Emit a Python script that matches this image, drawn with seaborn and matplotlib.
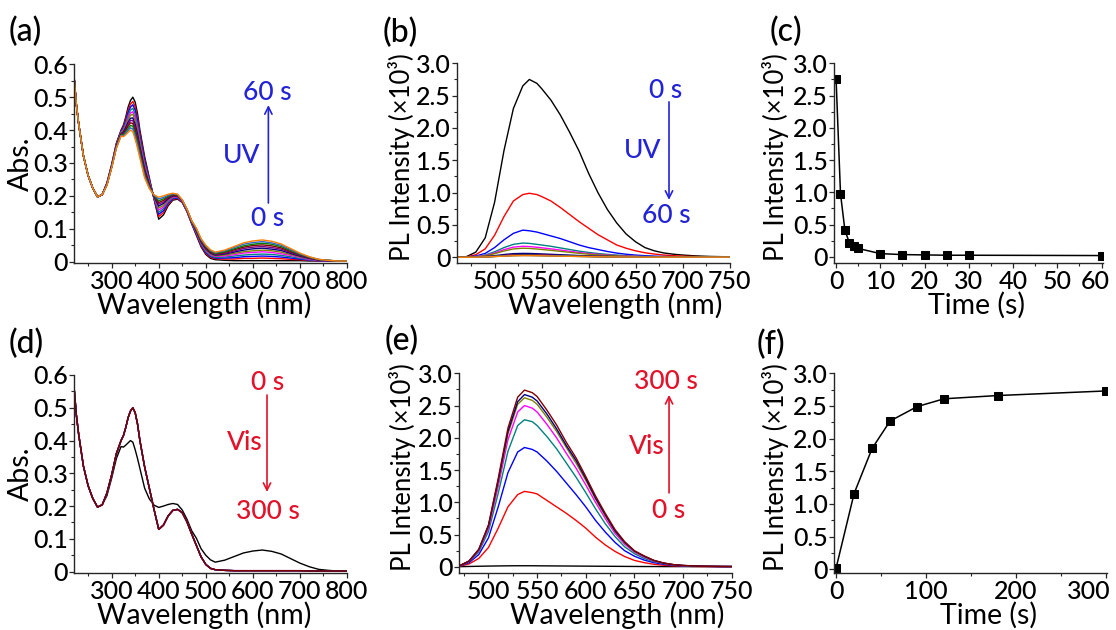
import matplotlib
matplotlib.use("Agg")
import matplotlib.pyplot as plt
from matplotlib.ticker import MultipleLocator, FuncFormatter, FixedLocator
from matplotlib.transforms import ScaledTranslation
import pandas as pd
import seaborn as sns

# ---------------------------------------------------------------- data
# UV-vis absorption grid (nm)
wavelength_abs = [220, 225, 230, 240, 250, 260, 270, 280, 290, 300, 310, 320, 325, 330, 335,
                  340, 345, 350, 355, 360, 370, 380, 390, 400, 410, 420, 430, 440, 450, 460,
                  470, 480, 490, 500, 510, 520, 540, 560, 580, 600, 620, 640, 660, 680, 700,
                  720, 740, 760, 780, 800]

abs_common = [0.565, 0.478, 0.418, 0.322, 0.262, 0.223, 0.197, 0.204]

abs_uv_0s = abs_common + [0.240, 0.295, 0.360, 0.400, 0.415, 0.440, 0.470, 0.490, 0.500, 0.485, 0.450, 0.400, 0.320, 0.255, 0.190, 0.129, 0.142, 0.170, 0.187, 0.190, 0.180, 0.152, 0.115, 0.080, 0.045, 0.022, 0.010, 0.006, 0.004, 0.003, 0.003, 0.003, 0.003, 0.003, 0.003, 0.003, 0.003, 0.002, 0.002, 0.002, 0.002, 0.002]
abs_uv_1s = abs_common + [0.239, 0.294, 0.358, 0.398, 0.411, 0.434, 0.461, 0.479, 0.487, 0.471, 0.437, 0.390, 0.312, 0.251, 0.192, 0.137, 0.149, 0.174, 0.190, 0.192, 0.181, 0.153, 0.116, 0.083, 0.048, 0.025, 0.013, 0.009, 0.008, 0.008, 0.010, 0.010, 0.011, 0.010, 0.009, 0.007, 0.006, 0.004, 0.003, 0.002, 0.002, 0.002]
abs_uv_2s = abs_common + [0.238, 0.293, 0.357, 0.396, 0.407, 0.428, 0.453, 0.470, 0.477, 0.460, 0.427, 0.381, 0.306, 0.248, 0.193, 0.144, 0.155, 0.178, 0.192, 0.193, 0.182, 0.154, 0.117, 0.085, 0.051, 0.028, 0.016, 0.011, 0.011, 0.012, 0.015, 0.016, 0.017, 0.016, 0.014, 0.011, 0.008, 0.005, 0.003, 0.002, 0.002, 0.002]
abs_uv_3s = abs_common + [0.237, 0.292, 0.355, 0.394, 0.404, 0.423, 0.445, 0.461, 0.466, 0.449, 0.416, 0.373, 0.299, 0.244, 0.194, 0.150, 0.161, 0.181, 0.194, 0.195, 0.183, 0.155, 0.118, 0.087, 0.053, 0.031, 0.018, 0.013, 0.014, 0.017, 0.020, 0.022, 0.023, 0.022, 0.019, 0.015, 0.010, 0.006, 0.004, 0.003, 0.002, 0.002]
abs_uv_4s = abs_common + [0.237, 0.291, 0.354, 0.392, 0.400, 0.417, 0.438, 0.452, 0.456, 0.438, 0.406, 0.364, 0.293, 0.241, 0.195, 0.157, 0.166, 0.185, 0.196, 0.196, 0.183, 0.155, 0.119, 0.089, 0.056, 0.034, 0.021, 0.016, 0.017, 0.021, 0.026, 0.028, 0.030, 0.028, 0.024, 0.019, 0.013, 0.007, 0.004, 0.003, 0.002, 0.002]
abs_uv_5s = abs_common + [0.236, 0.290, 0.353, 0.391, 0.398, 0.413, 0.432, 0.445, 0.448, 0.429, 0.398, 0.358, 0.288, 0.239, 0.197, 0.163, 0.171, 0.188, 0.198, 0.198, 0.184, 0.156, 0.120, 0.091, 0.058, 0.036, 0.023, 0.018, 0.020, 0.025, 0.030, 0.033, 0.035, 0.033, 0.029, 0.022, 0.015, 0.009, 0.005, 0.003, 0.002, 0.002]
abs_uv_10s = abs_common + [0.235, 0.289, 0.351, 0.389, 0.394, 0.408, 0.424, 0.436, 0.437, 0.417, 0.387, 0.349, 0.281, 0.235, 0.198, 0.169, 0.177, 0.191, 0.200, 0.199, 0.185, 0.157, 0.121, 0.093, 0.060, 0.039, 0.026, 0.020, 0.023, 0.029, 0.035, 0.039, 0.041, 0.038, 0.034, 0.025, 0.017, 0.010, 0.005, 0.003, 0.002, 0.002]
abs_uv_15s = abs_common + [0.235, 0.288, 0.350, 0.388, 0.391, 0.403, 0.418, 0.429, 0.429, 0.408, 0.379, 0.342, 0.276, 0.233, 0.199, 0.175, 0.181, 0.194, 0.201, 0.200, 0.185, 0.157, 0.122, 0.095, 0.062, 0.041, 0.028, 0.022, 0.025, 0.032, 0.040, 0.044, 0.046, 0.043, 0.038, 0.028, 0.019, 0.011, 0.005, 0.003, 0.002, 0.002]
abs_uv_20s = abs_common + [0.234, 0.287, 0.349, 0.386, 0.388, 0.399, 0.412, 0.422, 0.420, 0.399, 0.370, 0.335, 0.271, 0.230, 0.200, 0.180, 0.186, 0.197, 0.203, 0.201, 0.186, 0.158, 0.123, 0.097, 0.064, 0.043, 0.030, 0.024, 0.028, 0.036, 0.044, 0.049, 0.051, 0.048, 0.042, 0.031, 0.021, 0.012, 0.006, 0.004, 0.002, 0.002]
abs_uv_25s = abs_common + [0.233, 0.287, 0.347, 0.385, 0.386, 0.395, 0.405, 0.414, 0.412, 0.390, 0.362, 0.329, 0.265, 0.227, 0.201, 0.185, 0.191, 0.199, 0.205, 0.203, 0.187, 0.159, 0.123, 0.098, 0.066, 0.046, 0.032, 0.025, 0.030, 0.039, 0.048, 0.053, 0.056, 0.053, 0.046, 0.034, 0.022, 0.013, 0.006, 0.004, 0.002, 0.002]
abs_uv_30s = abs_common + [0.233, 0.286, 0.346, 0.383, 0.383, 0.390, 0.399, 0.407, 0.403, 0.381, 0.353, 0.322, 0.260, 0.225, 0.202, 0.191, 0.195, 0.202, 0.206, 0.204, 0.187, 0.159, 0.124, 0.100, 0.068, 0.048, 0.034, 0.027, 0.033, 0.043, 0.053, 0.058, 0.061, 0.057, 0.050, 0.037, 0.024, 0.014, 0.007, 0.004, 0.002, 0.002]
abs_uv_60s = abs_common + [0.232, 0.285, 0.345, 0.382, 0.380, 0.386, 0.393, 0.400, 0.395, 0.372, 0.345, 0.315, 0.255, 0.222, 0.203, 0.196, 0.200, 0.205, 0.208, 0.205, 0.188, 0.160, 0.125, 0.102, 0.070, 0.050, 0.036, 0.029, 0.035, 0.046, 0.057, 0.063, 0.066, 0.062, 0.054, 0.040, 0.026, 0.015, 0.007, 0.004, 0.002, 0.002]

uv_times = ["0 s", "1 s", "2 s", "3 s", "4 s", "5 s", "10 s", "15 s", "20 s", "25 s", "30 s", "60 s"]
abs_uv = [abs_uv_0s, abs_uv_1s, abs_uv_2s, abs_uv_3s, abs_uv_4s, abs_uv_5s, abs_uv_10s,
          abs_uv_15s, abs_uv_20s, abs_uv_25s, abs_uv_30s, abs_uv_60s]

# visible-light recovery: the coloured state first, then the reopened form
vis_times = ["0 s", "20 s", "40 s", "60 s", "90 s", "120 s", "180 s", "300 s"]
abs_vis = [abs_uv_60s] + [abs_uv_0s] * 7

# photoluminescence grid (nm)
wavelength_pl = [460, 470, 480, 490, 500, 510, 520, 530, 537, 545, 550, 560, 570, 580, 590, 600,
                 610, 620, 630, 640, 650, 660, 670, 680, 690, 700, 710, 720, 730, 740, 750]

pl_uv_0s = [0, 0.01, 0.08, 0.30, 0.85, 1.65, 2.30, 2.65, 2.75, 2.69, 2.61, 2.43, 2.20, 1.93, 1.64, 1.30, 1.00, 0.74, 0.53, 0.36, 0.24, 0.15, 0.10, 0.067, 0.048, 0.035, 0.025, 0.018, 0.013, 0.010, 0.008]
pl_uv_1s = [0, 0.005, 0.04, 0.13, 0.34, 0.63, 0.87, 0.97, 0.99, 0.97, 0.94, 0.87, 0.77, 0.66, 0.55, 0.45, 0.35, 0.27, 0.19, 0.14, 0.10, 0.07, 0.05, 0.035, 0.025, 0.018, 0.013, 0.010, 0.008, 0.006, 0.005]
pl_uv_2s = [0, 0.003, 0.02, 0.06, 0.15, 0.27, 0.37, 0.42, 0.41, 0.39, 0.37, 0.33, 0.29, 0.24, 0.19, 0.15, 0.12, 0.09, 0.065, 0.047, 0.034, 0.025, 0.018, 0.013, 0.010, 0.008, 0.006, 0.005, 0.004, 0.004, 0.003]
pl_uv_3s = [0, 0.002, 0.012, 0.035, 0.085, 0.15, 0.20, 0.22, 0.215, 0.20, 0.19, 0.17, 0.145, 0.12, 0.095, 0.075, 0.058, 0.045, 0.034, 0.025, 0.018, 0.013, 0.010, 0.008, 0.006, 0.005, 0.004, 0.004, 0.003, 0.003, 0.003]
pl_uv_4s = [0, 0.002, 0.01, 0.028, 0.066, 0.118, 0.157, 0.17, 0.166, 0.155, 0.147, 0.13, 0.112, 0.093, 0.074, 0.058, 0.045, 0.035, 0.026, 0.019, 0.014, 0.01, 0.008, 0.006, 0.005, 0.004, 0.004, 0.003, 0.003, 0.003, 0.003]
pl_uv_5s = [0, 0.002, 0.008, 0.023, 0.055, 0.097, 0.129, 0.14, 0.137, 0.128, 0.121, 0.107, 0.092, 0.077, 0.061, 0.048, 0.037, 0.029, 0.022, 0.016, 0.012, 0.009, 0.007, 0.005, 0.004, 0.004, 0.003, 0.003, 0.003, 0.003, 0.003]
pl_uv_10s = [0, 0.001, 0.004, 0.011, 0.025, 0.043, 0.056, 0.06, 0.059, 0.055, 0.052, 0.046, 0.04, 0.034, 0.027, 0.022, 0.017, 0.014, 0.011, 0.009, 0.007, 0.006, 0.005, 0.004, 0.004, 0.003, 0.003, 0.003, 0.003, 0.003, 0.003]
pl_uv_15s = [0, 0.001, 0.003, 0.008, 0.017, 0.029, 0.037, 0.04, 0.039, 0.037, 0.035, 0.031, 0.027, 0.023, 0.019, 0.015, 0.012, 0.01, 0.008, 0.007, 0.006, 0.005, 0.004, 0.004, 0.003, 0.003, 0.003, 0.003, 0.003, 0.003, 0.003]
pl_uv_20s = [0, 0.001, 0.003, 0.007, 0.015, 0.025, 0.032, 0.035, 0.034, 0.032, 0.03, 0.027, 0.024, 0.02, 0.017, 0.014, 0.011, 0.009, 0.007, 0.006, 0.005, 0.004, 0.004, 0.003, 0.003, 0.003, 0.003, 0.003, 0.003, 0.003, 0.003]
pl_uv_25s = [0, 0.001, 0.002, 0.006, 0.013, 0.021, 0.027, 0.03, 0.029, 0.028, 0.026, 0.023, 0.02, 0.017, 0.014, 0.012, 0.01, 0.008, 0.006, 0.005, 0.004, 0.004, 0.003, 0.003, 0.003, 0.003, 0.003, 0.003, 0.003, 0.003, 0.003]
pl_uv_30s = [0, 0.001, 0.002, 0.006, 0.012, 0.02, 0.026, 0.028, 0.028, 0.026, 0.025, 0.022, 0.019, 0.016, 0.013, 0.011, 0.009, 0.007, 0.006, 0.005, 0.004, 0.003, 0.003, 0.003, 0.003, 0.003, 0.003, 0.003, 0.003, 0.003, 0.003]
pl_uv_60s = [0, 0.001, 0.002, 0.005, 0.011, 0.018, 0.024, 0.026, 0.026, 0.024, 0.023, 0.02, 0.018, 0.015, 0.012, 0.01, 0.008, 0.007, 0.005, 0.004, 0.004, 0.003, 0.003, 0.003, 0.003, 0.003, 0.003, 0.003, 0.003, 0.003, 0.003]
pl_uv = [pl_uv_0s, pl_uv_1s, pl_uv_2s, pl_uv_3s, pl_uv_4s, pl_uv_5s, pl_uv_10s,
         pl_uv_15s, pl_uv_20s, pl_uv_25s, pl_uv_30s, pl_uv_60s]

pl_vis_0s = [0, 0.003, 0.006, 0.009, 0.012, 0.014, 0.016, 0.017, 0.017, 0.017, 0.016, 0.015, 0.014, 0.013, 0.012, 0.011, 0.010, 0.009, 0.008, 0.007, 0.006, 0.005, 0.005, 0.004, 0.004, 0.004, 0.003, 0.003, 0.003, 0.003, 0.003]
pl_vis_20s = [0, 0.008, 0.045, 0.13, 0.30, 0.60, 0.93, 1.12, 1.17, 1.15, 1.13, 1.03, 0.93, 0.83, 0.72, 0.60, 0.46, 0.34, 0.24, 0.16, 0.10, 0.065, 0.04, 0.025, 0.016, 0.01, 0.007, 0.005, 0.004, 0.003, 0.003]
pl_vis_40s = [0, 0.011, 0.065, 0.19, 0.45, 0.93, 1.46, 1.78, 1.85, 1.82, 1.78, 1.64, 1.48, 1.30, 1.12, 0.93, 0.72, 0.54, 0.38, 0.25, 0.165, 0.105, 0.065, 0.04, 0.024, 0.015, 0.01, 0.008, 0.006, 0.004, 0.004]
pl_vis_60s = [0, 0.013, 0.08, 0.23, 0.55, 1.14, 1.79, 2.19, 2.28, 2.25, 2.19, 2.02, 1.83, 1.61, 1.39, 1.15, 0.90, 0.67, 0.47, 0.31, 0.205, 0.13, 0.08, 0.05, 0.03, 0.018, 0.013, 0.009, 0.007, 0.005, 0.004]
pl_vis_90s = [0, 0.014, 0.085, 0.25, 0.60, 1.25, 1.97, 2.40, 2.50, 2.46, 2.40, 2.21, 2.00, 1.76, 1.53, 1.27, 1.00, 0.75, 0.52, 0.35, 0.23, 0.15, 0.09, 0.055, 0.032, 0.02, 0.014, 0.01, 0.007, 0.006, 0.005]
pl_vis_120s = [0, 0.014, 0.088, 0.26, 0.63, 1.31, 2.06, 2.52, 2.62, 2.58, 2.52, 2.32, 2.10, 1.85, 1.61, 1.34, 1.05, 0.79, 0.55, 0.37, 0.24, 0.16, 0.096, 0.057, 0.033, 0.021, 0.014, 0.01, 0.008, 0.006, 0.005]
pl_vis_180s = [0, 0.015, 0.09, 0.27, 0.64, 1.34, 2.10, 2.56, 2.67, 2.63, 2.57, 2.37, 2.14, 1.88, 1.65, 1.37, 1.07, 0.81, 0.56, 0.38, 0.245, 0.165, 0.10, 0.058, 0.034, 0.021, 0.015, 0.01, 0.008, 0.006, 0.005]
pl_vis_300s = [0, 0.015, 0.09, 0.27, 0.65, 1.37, 2.15, 2.63, 2.74, 2.70, 2.64, 2.43, 2.20, 1.93, 1.69, 1.40, 1.10, 0.83, 0.58, 0.39, 0.25, 0.17, 0.10, 0.06, 0.035, 0.022, 0.015, 0.01, 0.008, 0.006, 0.005]
pl_vis = [pl_vis_0s, pl_vis_20s, pl_vis_40s, pl_vis_60s, pl_vis_90s, pl_vis_120s,
          pl_vis_180s, pl_vis_300s]

# peak PL intensity vs irradiation time
uv_time_s = [0, 1, 2, 3, 4, 5, 10, 15, 20, 25, 30, 60]
uv_peak_pl = [2.76, 0.98, 0.41, 0.22, 0.17, 0.13, 0.05, 0.035, 0.03, 0.025, 0.025, 0.02]
vis_time_s = [0, 20, 40, 60, 90, 120, 180, 300]
vis_peak_pl = [0.02, 1.16, 1.85, 2.27, 2.49, 2.61, 2.66, 2.73]

# tick positions
abs_xticks = [300, 400, 500, 600, 700, 800]
pl_xticks = [500, 550, 600, 650, 700, 750]
uv_kin_xticks = [0, 10, 20, 30, 40, 50, 60]
vis_kin_xticks = [0, 100, 200, 300]
abs_yticks = [0, 0.1, 0.2, 0.3, 0.4, 0.5, 0.6]
pl_yticks = [0, 0.5, 1.0, 1.5, 2.0, 2.5, 3.0]

# ---------------------------------------------------------------- style
uv_colors = ["#000000", "#ff0000", "#0000ff", "#008080", "#ff00ff", "#808000",
             "#000080", "#800080", "#800000", "#008000", "#3366cc", "#ff8000"]
vis_colors = ["#000000", "#ff0000", "#0000ff", "#008080", "#ff00ff", "#808000",
              "#000080", "#800000"]
BLUE = "#2323d8"
RED = "#e3122b"
FS = 19          # annotations
LABEL_FS = 20.5  # x titles and "Abs."
PL_FS = 18.5     # long PL y titles
TICK_FS = 18
W, H = 1116, 630

sns.set_theme(style="ticks")
plt.rcParams["font.family"] = ["Lato", "DejaVu Sans"]
plt.rcParams["font.weight"] = "medium"
plt.rcParams["axes.linewidth"] = 1.0


def long_frame(x, curves, labels, ycol):
    rows = []
    for lab, ys in zip(labels, curves):
        for xv, yv in zip(x, ys):
            rows.append({"wavelength": xv, ycol: yv, "time": lab})
    return pd.DataFrame(rows)


def make_axes(fig, left, right, top, bottom):
    return fig.add_axes([left / W, 1 - bottom / H, (right - left) / W, (bottom - top) / H])


def zero_fmt(v, pos):
    return "0" if abs(v) < 1e-9 else f"{v:.1f}"


def style_axes(ax, xticks, xmin, yticks, ymin, int_x=False):
    sns.despine(ax=ax)
    for s in ("left", "bottom"):
        ax.spines[s].set_color("#262626")
        ax.spines[s].set_linewidth(1.0)
    ax.xaxis.set_major_locator(FixedLocator(xticks))
    ax.xaxis.set_minor_locator(MultipleLocator(xmin))
    ax.yaxis.set_major_locator(FixedLocator(yticks))
    ax.yaxis.set_minor_locator(MultipleLocator(ymin))
    ax.yaxis.set_major_formatter(FuncFormatter(zero_fmt))
    if int_x:
        ax.xaxis.set_major_formatter(FuncFormatter(lambda v, p: f"{v:.0f}"))
    ax.tick_params(which="major", direction="out", length=3.5, width=0.9,
                   color="#262626", labelsize=TICK_FS, pad=1, labelcolor="black")
    ax.tick_params(which="minor", direction="out", length=2.2, width=0.8, color="#262626")


def set_labels(ax, xlabel, ylabel, xl_x, yl_x, yl_y, yfs=LABEL_FS):
    ax.set_xlabel(xlabel, fontsize=LABEL_FS, color="black")
    ax.set_ylabel(ylabel, fontsize=yfs, color="black")
    ax.xaxis.set_label_coords(xl_x, -0.21)
    ax.xaxis.label.set_verticalalignment("center")
    ax.yaxis.set_label_coords(yl_x, yl_y)
    ax.yaxis.label.set_verticalalignment("center")


def arrow(ax, x, y_tail, y_head, color):
    ax.annotate("", xy=(x, y_head), xytext=(x, y_tail), xycoords="axes fraction",
                arrowprops=dict(arrowstyle="->", color=color, lw=1.2,
                                shrinkA=0, shrinkB=0, mutation_scale=13))


def note(ax, x, y, s, color):
    ax.text(x, y, s, transform=ax.transAxes, ha="center", va="center",
            fontsize=FS, color=color, clip_on=False)


def pull_last_xlabel_left(fig, ax, px):
    # the last tick label sits at the figure edge; nudge it inwards
    fig.canvas.draw()
    last = ax.xaxis.get_major_ticks()[-1].label1
    last.set_transform(last.get_transform()
                       + ScaledTranslation(-px / 100, 0, fig.dpi_scale_trans))


fig = plt.figure(figsize=(W / 100, H / 100), dpi=100)

ax_a = make_axes(fig, 74, 347, 64.3, 263.3)
ax_b = make_axes(fig, 457, 729.5, 63.3, 263.3)
ax_c = make_axes(fig, 834.3, 1102.5, 63.3, 263.3)
ax_d = make_axes(fig, 74, 347, 375, 573.3)
ax_e = make_axes(fig, 459.3, 731.7, 373.3, 573.3)
ax_f = make_axes(fig, 834.3, 1107, 373.3, 573.3)

PL_LABEL = "PL Intensity (×10³)"

# (a) absorption under UV
df_a = long_frame(wavelength_abs, abs_uv, uv_times, "absorbance")
sns.lineplot(data=df_a, x="wavelength", y="absorbance", hue="time", hue_order=uv_times,
             palette=dict(zip(uv_times, uv_colors)), legend=False, linewidth=1.0,
             estimator=None, ax=ax_a)
ax_a.set_xlim(220, 800)
ax_a.set_ylim(-0.005, 0.6)
style_axes(ax_a, abs_xticks, 50, abs_yticks, 0.05)
set_labels(ax_a, "Wavelength (nm)", "Abs.", 0.476, -0.195, 0.5)
note(ax_a, 0.707, 0.856, "60 s", BLUE)
note(ax_a, 0.615, 0.544, "UV", BLUE)
note(ax_a, 0.711, 0.227, "0 s", BLUE)
arrow(ax_a, 0.712, 0.303, 0.795, BLUE)

# (b) PL under UV
df_b = long_frame(wavelength_pl, pl_uv, uv_times, "pl")
sns.lineplot(data=df_b, x="wavelength", y="pl", hue="time", hue_order=uv_times,
             palette=dict(zip(uv_times, uv_colors)), legend=False, linewidth=1.0,
             estimator=None, ax=ax_b)
ax_b.set_xlim(460, 750)
ax_b.set_ylim(-0.093, 3.0)
style_axes(ax_b, pl_xticks, 25, pl_yticks, 0.25)
set_labels(ax_b, "Wavelength (nm)", PL_LABEL, 0.58, -0.205, 0.53, PL_FS)
note(ax_b, 0.767, 0.862, "0 s", BLUE)
note(ax_b, 0.683, 0.562, "UV", BLUE)
note(ax_b, 0.767, 0.237, "60 s", BLUE)
arrow(ax_b, 0.778, 0.807, 0.317, BLUE)

# (c) PL decay kinetics
sns.lineplot(x=uv_time_s, y=uv_peak_pl, color="black", marker="s", markersize=5.5,
             markeredgecolor="black", linewidth=1.1, estimator=None, ax=ax_c)
ax_c.set_xlim(-0.4, 60.2)
ax_c.set_ylim(-0.1, 3.0)
style_axes(ax_c, uv_kin_xticks, 5, pl_yticks, 0.25, int_x=True)
set_labels(ax_c, "Time (s)", PL_LABEL, 0.53, -0.22, 0.53, PL_FS)

# (d) absorption under visible light
df_d = long_frame(wavelength_abs, abs_vis, vis_times, "absorbance")
sns.lineplot(data=df_d, x="wavelength", y="absorbance", hue="time", hue_order=vis_times,
             palette=dict(zip(vis_times, vis_colors)), legend=False, linewidth=1.0,
             estimator=None, ax=ax_d)
ax_d.set_xlim(220, 800)
ax_d.set_ylim(-0.005, 0.6)
style_axes(ax_d, abs_xticks, 50, abs_yticks, 0.05)
set_labels(ax_d, "Wavelength (nm)", "Abs.", 0.476, -0.195, 0.5)
note(ax_d, 0.711, 0.960, "0 s", RED)
note(ax_d, 0.626, 0.662, "Vis", RED)
note(ax_d, 0.711, 0.314, "300 s", RED)
arrow(ax_d, 0.707, 0.899, 0.41, RED)

# (e) PL under visible light
df_e = long_frame(wavelength_pl, pl_vis, vis_times, "pl")
sns.lineplot(data=df_e, x="wavelength", y="pl", hue="time", hue_order=vis_times,
             palette=dict(zip(vis_times, vis_colors)), legend=False, linewidth=1.0,
             estimator=None, ax=ax_e)
ax_e.set_xlim(470, 750)
ax_e.set_ylim(-0.1, 3.0)
style_axes(ax_e, pl_xticks, 25, pl_yticks, 0.25)
set_labels(ax_e, "Wavelength (nm)", PL_LABEL, 0.579, -0.21, 0.53, PL_FS)
note(ax_e, 0.758, 0.957, "300 s", RED)
note(ax_e, 0.689, 0.632, "Vis", RED)
note(ax_e, 0.770, 0.312, "0 s", RED)
arrow(ax_e, 0.770, 0.402, 0.892, RED)

# (f) PL recovery kinetics
sns.lineplot(x=vis_time_s, y=vis_peak_pl, color="black", marker="s", markersize=5.5,
             markeredgecolor="black", linewidth=1.1, estimator=None, ax=ax_f)
ax_f.set_xlim(-2, 301)
ax_f.set_ylim(-0.061, 3.0)
style_axes(ax_f, vis_kin_xticks, 50, pl_yticks, 0.25, int_x=True)
set_labels(ax_f, "Time (s)", PL_LABEL, 0.567, -0.217, 0.53, PL_FS)

# panel letters
for letter, (px, py) in {"(a)": (9, 32), "(b)": (383, 33), "(c)": (770, 32),
                         "(d)": (9, 344), "(e)": (385, 341), "(f)": (757, 345)}.items():
    fig.text(px / W, 1 - py / H, letter, ha="left", va="center", fontsize=FS + 4,
             color="black")

pull_last_xlabel_left(fig, ax_c, 6)
pull_last_xlabel_left(fig, ax_f, 17)

fig.savefig("out.png", dpi=100, facecolor="white")
